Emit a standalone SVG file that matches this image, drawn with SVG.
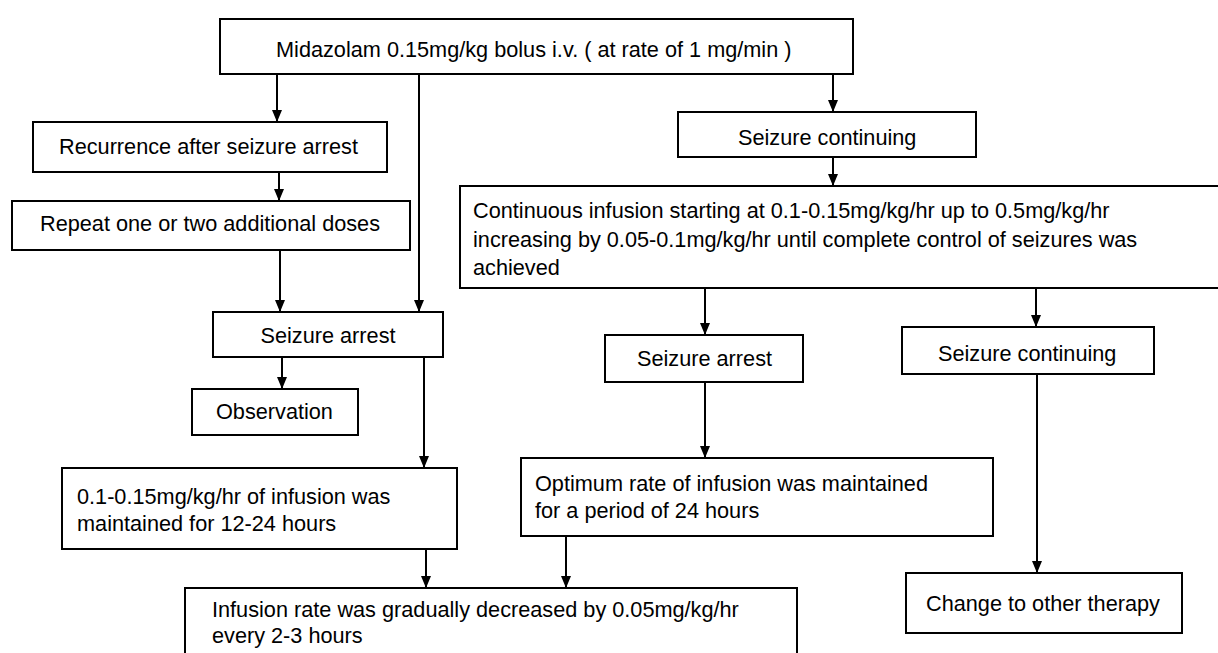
<svg xmlns="http://www.w3.org/2000/svg" width="1218" height="653" viewBox="0 0 1218 653">
<defs>
<style>
rect{fill:#fff;stroke:#000;stroke-width:2}
text{font-family:"Liberation Sans",Arial,sans-serif;font-size:21.7px;fill:#000}
.c line{stroke:#000;stroke-width:2}
</style>
<marker id="ah" viewBox="0 0 12 10" refX="12" refY="5" markerWidth="12" markerHeight="10" markerUnits="userSpaceOnUse" orient="auto">
<path d="M0,0 L12,5 L0,10 Z" fill="#000"/>
</marker>
</defs>
<rect x="0" y="0" width="1218" height="653" style="fill:#fff;stroke:none"/>
<g class="c">
<line x1="277" y1="74" x2="277" y2="122" marker-end="url(#ah)"/>
<line x1="419" y1="74" x2="419" y2="312" marker-end="url(#ah)"/>
<line x1="833" y1="72" x2="833" y2="112" marker-end="url(#ah)"/>
<line x1="279" y1="172" x2="279" y2="201" marker-end="url(#ah)"/>
<line x1="280" y1="250" x2="280" y2="312" marker-end="url(#ah)"/>
<line x1="833" y1="157" x2="833" y2="186" marker-end="url(#ah)"/>
<line x1="282" y1="357" x2="282" y2="389" marker-end="url(#ah)"/>
<line x1="424" y1="357" x2="424" y2="468" marker-end="url(#ah)"/>
<line x1="705" y1="289" x2="705" y2="335" marker-end="url(#ah)"/>
<line x1="1036" y1="287" x2="1036" y2="327" marker-end="url(#ah)"/>
<line x1="705" y1="382" x2="705" y2="458" marker-end="url(#ah)"/>
<line x1="1037" y1="374" x2="1037" y2="573" marker-end="url(#ah)"/>
<line x1="426" y1="549" x2="426" y2="588" marker-end="url(#ah)"/>
<line x1="566" y1="536" x2="566" y2="588" marker-end="url(#ah)"/>
</g>
<g id="n-top"><rect x="220" y="19" width="633" height="55"/><text x="276" y="57">Midazolam 0.15mg/kg bolus i.v. ( at rate of 1 mg/min )</text></g>
<g id="n-recur"><rect x="33" y="122" width="354" height="50"/><text x="59" y="154">Recurrence after seizure arrest</text></g>
<g id="n-repeat"><rect x="12" y="201" width="398" height="49"/><text x="40" y="231">Repeat one or two additional doses</text></g>
<g id="n-sa1"><rect x="213" y="312" width="230" height="45"/><text x="328" y="343" text-anchor="middle">Seizure arrest</text></g>
<g id="n-obs"><rect x="192" y="389" width="166" height="46"/><text x="216" y="419">Observation</text></g>
<g id="n-maint"><rect x="62" y="468" width="395" height="81"/><text x="77" y="504">0.1-0.15mg/kg/hr of infusion was</text><text x="77" y="531">maintained for 12-24 hours</text></g>
<g id="n-dec"><rect x="185" y="588" width="612" height="75"/><text x="212" y="617">Infusion rate was gradually decreased by 0.05mg/kg/hr</text><text x="212" y="643">every 2-3 hours</text></g>
<g id="n-sc1"><rect x="678" y="112" width="298" height="45"/><text x="738" y="145">Seizure continuing</text></g>
<g id="n-cont"><rect x="460" y="186" width="770" height="102"/><text x="473" y="218">Continuous infusion starting at 0.1-0.15mg/kg/hr up to 0.5mg/kg/hr</text><text x="473" y="247">increasing by 0.05-0.1mg/kg/hr until complete control of seizures was</text><text x="473" y="275">achieved</text></g>
<g id="n-sa2"><rect x="605" y="335" width="198" height="47"/><text x="637" y="366">Seizure arrest</text></g>
<g id="n-sc2"><rect x="902" y="327" width="252" height="47"/><text x="938" y="361">Seizure continuing</text></g>
<g id="n-opt"><rect x="521" y="458" width="472" height="78"/><text x="535" y="491">Optimum rate of infusion was maintained</text><text x="535" y="518">for a period of 24 hours</text></g>
<g id="n-change"><rect x="906" y="573" width="276" height="60"/><text x="926" y="611">Change to other therapy</text></g>
</svg>
